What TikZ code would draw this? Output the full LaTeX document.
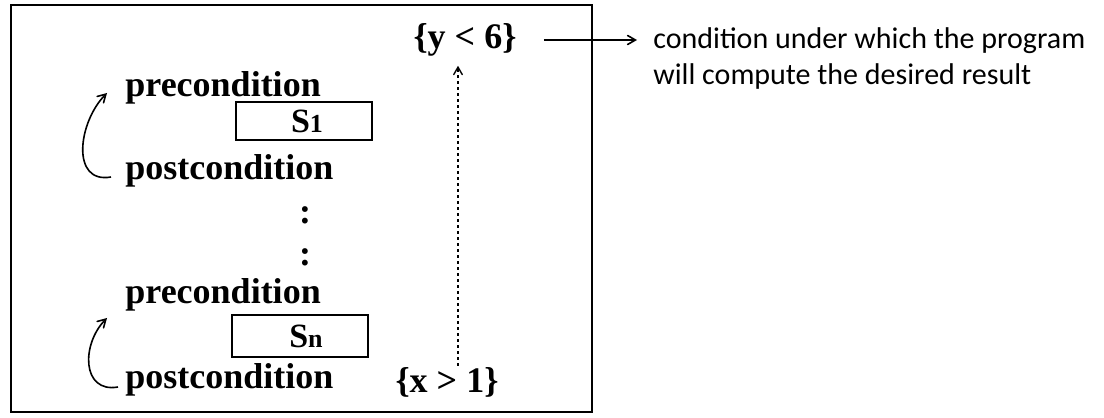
\documentclass[tikz,border=0pt]{standalone}
\usepackage{fontspec}
\setmainfont{Liberation Serif}
\newfontfamily\handfont{Carlito}
\usetikzlibrary{arrows}
\tikzset{
    cond/.style={
        anchor=west,
        inner sep=0pt,
        font=\fontsize{18}{20}\selectfont\bfseries
    },
    assertion/.style={
        inner sep=0pt,
        font=\fontsize{18}{20}\selectfont\bfseries
    },
    stmt/.style={
        draw,
        line width=0.8pt,
        minimum width=68pt,
        minimum height=19pt,
        inner sep=0pt,
        font=\fontsize{17}{19}\selectfont\bfseries
    },
    note/.style={
        anchor=west,
        align=left,
        inner sep=0pt,
        font=\fontsize{15}{18}\selectfont\handfont
    },
    hand arrow/.style={
        ->,>=angle 60,
        line width=0.8pt
    },
    proof arrow/.style={
        ->,>=angle 60,
        dash pattern=on 1.5pt off 1.5pt,
        line width=0.7pt
    }
}

\begin{document}
\begin{tikzpicture}[x=0.5pt, y=0.5pt]
    \useasboundingbox (0,0) rectangle (1104,418);
    \draw[line width=1pt] (11,6) rectangle (592,413);

    \node[cond] (pre1) at (125,330) {precondition};
    \node[stmt] (s1) at (304,297) {\hspace{3pt}S{\fontsize{13}{14}\selectfont 1}};
    \node[cond] (post1) at (125,247) {postcondition};
    \node[assertion] (dots1) at (305,203) {:};
    \node[assertion] (dots2) at (305,161) {:};
    \node[cond] (pre2) at (125,123) {precondition};
    \node[stmt, minimum height=21pt] (sn) at (300,82) {\hspace{6pt}S{\fontsize{13}{14}\selectfont n}};
    \node[cond] (post2) at (125,38) {postcondition};

    \node[assertion] (y6) at (465,378) {\{y < 6\}};
    \node[assertion] (x1) at (447,36) {\{x > 1\}};
    \node[note] (note) at (653,359) {condition under which the program\\will compute the desired result};

    \draw[hand arrow] ([xshift=-7pt,yshift=-3pt]post1.west) to[out=190, in=225, looseness=1.25] ([xshift=-9pt,yshift=-2.5pt]pre1.west);
    \draw[hand arrow] ([xshift=-3.5pt,yshift=-3.5pt]post2.west) to[out=190, in=225, looseness=1.35] ([xshift=-9pt,yshift=-11.5pt]pre2.west);

    \draw[proof arrow] ([xshift=5.5pt,yshift=0.5pt]x1.north) -- ([xshift=-3.5pt,yshift=-4.5pt]y6.south);

    \path (y6.east -| note.west) coordinate (noteIn);
    \draw[hand arrow] ([xshift=13.5pt]y6.east) -- ([xshift=-8pt]noteIn);
\end{tikzpicture}
\end{document}
